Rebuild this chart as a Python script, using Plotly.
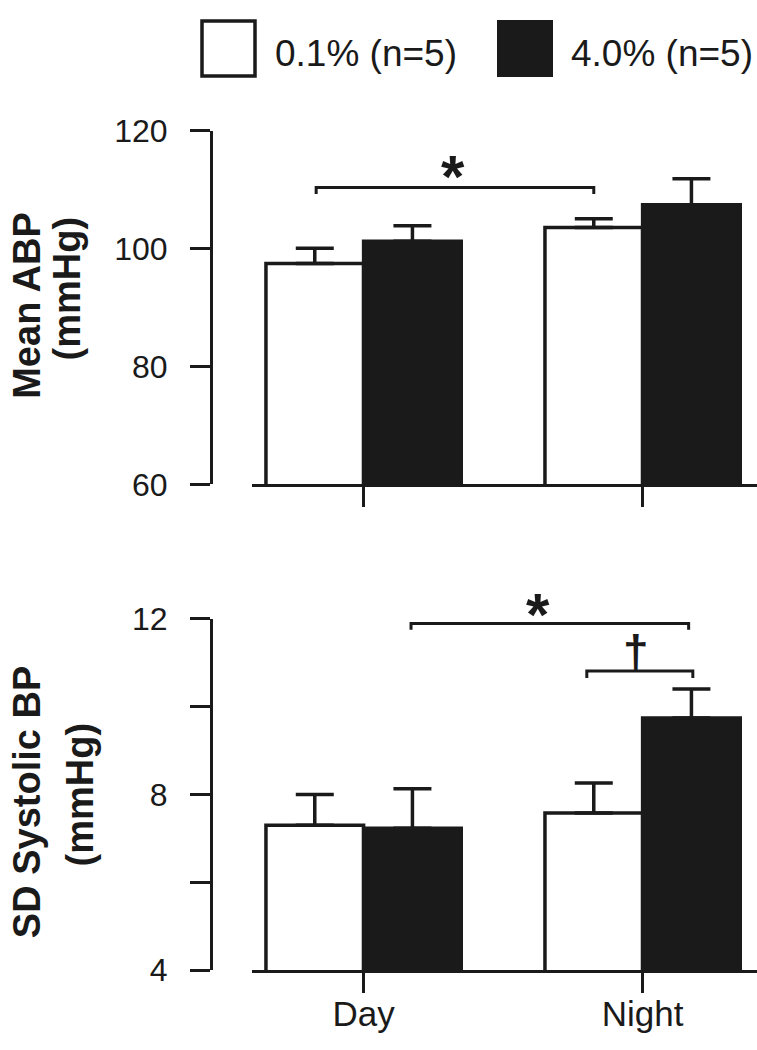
import plotly.graph_objects as go

categories = ["Day", "Night"]
series_names = ["0.1% (n=5)", "4.0% (n=5)"]

abp_low = [97.5, 103.6]
abp_low_sem = [2.6, 1.5]
abp_high = [101.3, 107.5]
abp_high_sem = [2.6, 4.4]

sd_low = [7.30, 7.58]
sd_low_sem = [0.70, 0.68]
sd_high = [7.23, 9.74]
sd_high_sem = [0.90, 0.66]

top_ticks = [60, 80, 100, 120]
bot_ticks = [4, 6, 8, 10, 12]
bot_ticktext = ["4", "", "8", "", "12"]

W, H = 757, 1050
FONT = "Arial, Liberation Sans, sans-serif"
BLACK = "#1a1a1a"
xpos = list(range(len(categories)))


def px_x(p):
    return p / W


def px_y(p):
    return 1 - p / H


fig = go.Figure()


def add_bars(xa, ya, low, low_sem, high, high_sem):
    fig.add_trace(go.Bar(
        x=xpos, y=low, name=series_names[0], xaxis=xa, yaxis=ya,
        marker=dict(color="white", line=dict(color=BLACK, width=3.5)),
        error_y=dict(type="data", array=low_sem, arrayminus=[0] * len(low_sem),
                     symmetric=False, color=BLACK, thickness=3.5, width=19),
        showlegend=False))
    fig.add_trace(go.Bar(
        x=xpos, y=high, name=series_names[1], xaxis=xa, yaxis=ya,
        marker=dict(color=BLACK, line=dict(color=BLACK, width=3.5)),
        error_y=dict(type="data", array=high_sem, arrayminus=[0] * len(high_sem),
                     symmetric=False, color=BLACK, thickness=3.5, width=19),
        showlegend=False))


add_bars("x", "y", abp_low, abp_low_sem, abp_high, abp_high_sem)
add_bars("x2", "y2", sd_low, sd_low_sem, sd_high, sd_high_sem)

xr = [-0.40, 1.41]
xdom = [px_x(252), 1]
common_x = dict(range=xr, domain=xdom, showline=True, linecolor=BLACK, linewidth=3,
                ticks="outside", ticklen=20, tickwidth=3, tickcolor=BLACK,
                tickvals=xpos, ticktext=categories, showgrid=False, zeroline=False,
                tickfont=dict(family=FONT, size=35, color=BLACK))
common_y = dict(showline=True, linecolor=BLACK, linewidth=3, ticks="outside",
                ticklen=20, tickwidth=3, tickcolor=BLACK, showgrid=False,
                zeroline=False, anchor="free", position=px_x(211),
                tickfont=dict(family=FONT, size=32, color=BLACK),
                ticklabelstandoff=16)

fig.update_layout(
    width=W, height=H, margin=dict(l=0, r=0, t=0, b=0),
    paper_bgcolor="white", plot_bgcolor="white",
    barmode="group", bargap=0.30, bargroupgap=0,
    xaxis=dict(common_x, anchor="y", showticklabels=False),
    yaxis=dict(common_y, domain=[px_y(483), px_y(117)], range=[60, 120],
               tickvals=top_ticks),
    xaxis2=dict(common_x, anchor="y2", showticklabels=True, ticklabelstandoff=-9),
    yaxis2=dict(common_y, domain=[px_y(986), px_y(622)], range=[4, 12],
                tickvals=bot_ticks, ticktext=bot_ticktext),
)

shapes = []


def bracket(xr_, yr_, x0, x1, y, drop):
    path = f"M {x0},{y - drop} L {x0},{y} L {x1},{y} L {x1},{y - drop}"
    shapes.append(dict(type="path", xref=xr_, yref=yr_, path=path,
                       line=dict(color=BLACK, width=3)))


bracket("x", "y", -0.17, 0.825, 110.4, 1.1)
bracket("x2", "y2", 0.17, 1.165, 11.89, 0.14)
bracket("x2", "y2", 0.80, 1.18, 10.81, 0.16)

# legend boxes
shapes.append(dict(type="rect", xref="paper", yref="paper",
                   x0=px_x(202), x1=px_x(255), y0=px_y(60), y1=px_y(3),
                   fillcolor="white", line=dict(color=BLACK, width=3.5)))
shapes.append(dict(type="rect", xref="paper", yref="paper",
                   x0=px_x(497), x1=px_x(553), y0=px_y(61), y1=px_y(2),
                   fillcolor=BLACK, line=dict(color=BLACK, width=0)))
fig.update_layout(shapes=shapes)

ann = []
leg_font = dict(family=FONT, size=37, color=BLACK)
ann.append(dict(x=px_x(273), y=px_y(37), xref="paper", yref="paper",
                text=series_names[0], showarrow=False, xanchor="left", yanchor="middle",
                font=leg_font))
ann.append(dict(x=px_x(569), y=px_y(37), xref="paper", yref="paper",
                text=series_names[1], showarrow=False, xanchor="left", yanchor="middle",
                font=leg_font))

# significance marks
star_font = dict(family=FONT, size=60, color=BLACK)
ann.append(dict(x=px_x(453), y=px_y(164), xref="paper", yref="paper", text="<b>*</b>",
                showarrow=False, xanchor="center", yanchor="middle", font=star_font))
ann.append(dict(x=px_x(538), y=px_y(618), xref="paper", yref="paper", text="<b>*</b>",
                showarrow=False, xanchor="center", yanchor="middle", font=star_font))
ann.append(dict(x=px_x(636), y=px_y(686), xref="paper", yref="paper", text="<b>†</b>",
                showarrow=False, xanchor="center", yanchor="bottom",
                font=dict(family=FONT, size=46, color=BLACK)))

# y-axis titles
title_font = dict(family=FONT, size=38, color=BLACK)
ann.append(dict(x=px_x(27), y=px_y(298), xref="paper", yref="paper", text="<b>Mean ABP</b>",
                textangle=-90, showarrow=False, xanchor="center", yanchor="middle",
                font=title_font))
ann.append(dict(x=px_x(67), y=px_y(280), xref="paper", yref="paper", text="<b>(mmHg)</b>",
                textangle=-90, showarrow=False, xanchor="center", yanchor="middle",
                font=title_font))
ann.append(dict(x=px_x(27), y=px_y(812), xref="paper", yref="paper",
                text="<b>SD Systolic BP</b>",
                textangle=-90, showarrow=False, xanchor="center", yanchor="middle",
                font=title_font))
ann.append(dict(x=px_x(80), y=px_y(804), xref="paper", yref="paper", text="<b>(mmHg)</b>",
                textangle=-90, showarrow=False, xanchor="center", yanchor="middle",
                font=title_font))
fig.update_layout(annotations=ann)

fig.write_html("out.html", config={"displayModeBar": False},
               post_script="document.body.style.margin='0';")
